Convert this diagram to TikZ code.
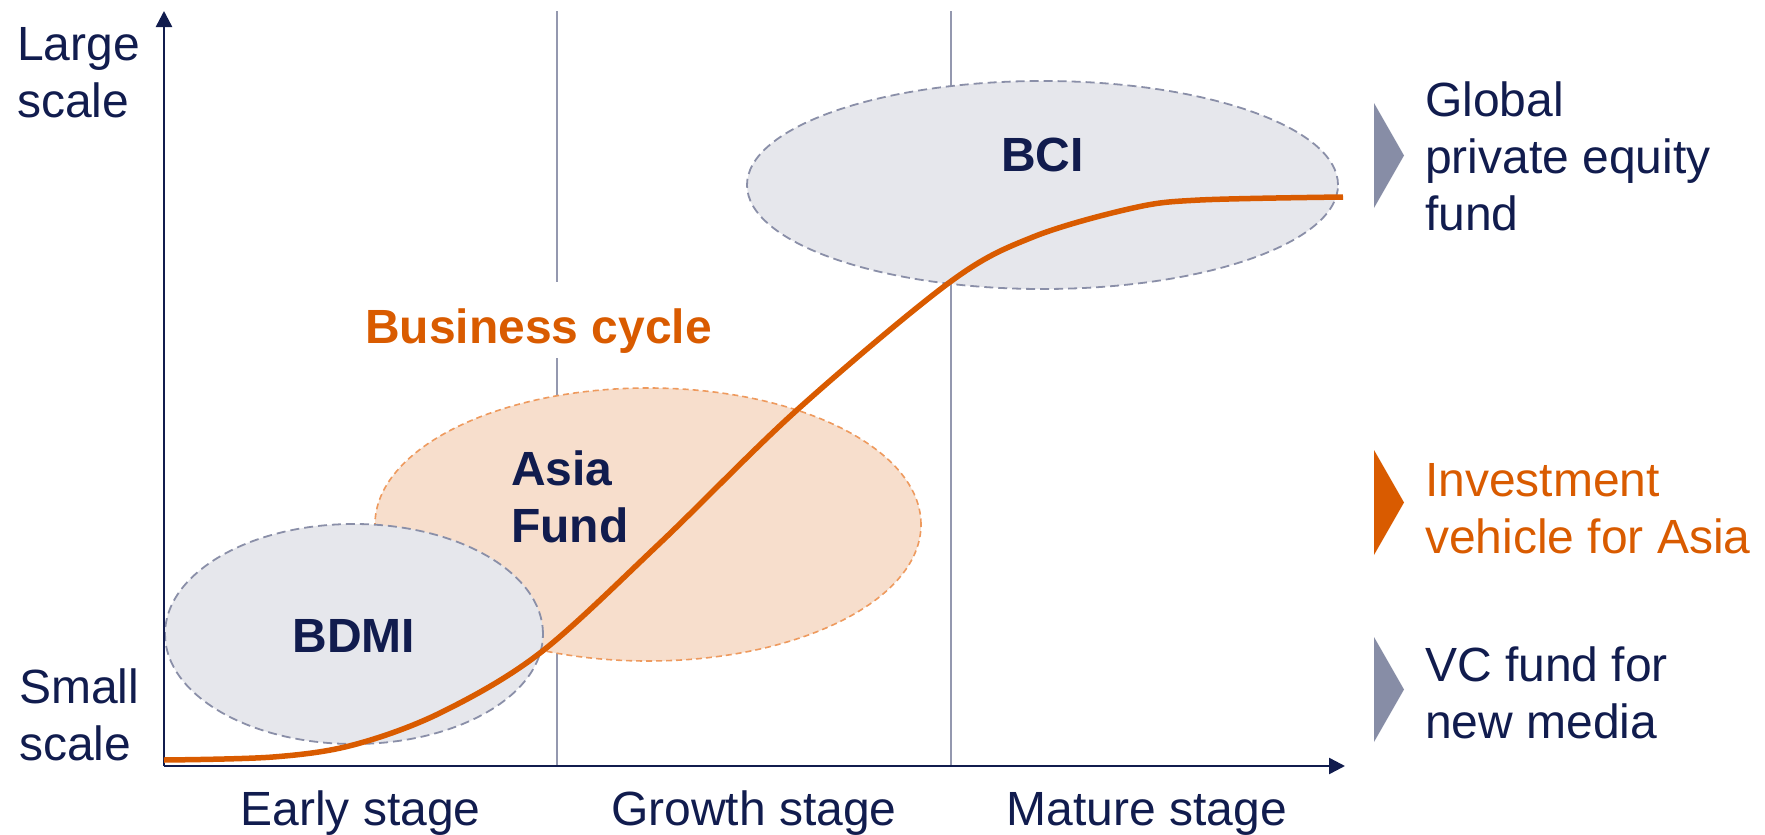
\documentclass[tikz,border=0pt]{standalone}
\usepackage{fontspec}
\setmainfont{Liberation Sans}
\usetikzlibrary{arrows.meta}
\definecolor{navy}{HTML}{111C4E}
\definecolor{accent}{HTML}{D95B00}
\definecolor{grayfill}{HTML}{E6E7EC}
\definecolor{grayline}{HTML}{8A8FA8}
\definecolor{asiafill}{HTML}{F7DECC}
\definecolor{asialine}{HTML}{EE9A5E}
\definecolor{trigray}{HTML}{878DA6}
\definecolor{sepline}{HTML}{9498AF}
\begin{document}
\begin{tikzpicture}[x=1pt,y=-1pt,
  lbl/.style={font=\fontsize{48}{57}\selectfont, text=navy, inner sep=0pt, align=left},
  blbl/.style={font=\fontsize{48}{57}\selectfont\bfseries, text=navy, inner sep=0pt, align=left},
  sepstyle/.style={draw=sepline, line width=1.8pt},
  grayell/.style={fill=grayfill, draw=grayline, line width=1.8pt, dash pattern=on 9pt off 5pt},
  asiaell/.style={fill=asiafill, draw=asialine, line width=1.6pt, dash pattern=on 6pt off 4pt},
  axisstyle/.style={draw=navy, line width=2.5pt, -{Triangle[length=16pt,width=16pt]}},
  curvestyle/.style={draw=accent, line width=5.5pt},
  marker/.style={fill=trigray}]
\useasboundingbox (0,0) rectangle (1765,835);

% separators
\coordinate (s1t) at (557,11);
\coordinate (s1a) at (557,282);
\coordinate (s1b) at (557,358);
\coordinate (s1e) at (557,766);
\coordinate (s2t) at (951,11);
\coordinate (s2e) at (951,766);
\draw[sepstyle] (s1t) -- (s1a);
\draw[sepstyle] (s1b) -- (s1e);
\draw[sepstyle] (s2t) -- (s2e);

% ellipses
\path[asiaell] (648,524.5) ellipse [x radius=273pt, y radius=136.5pt];
\path[grayell] (354,634) ellipse [x radius=189pt, y radius=110pt];
\path[grayell] (1042.5,185) ellipse [x radius=295.5pt, y radius=104pt];

% axes
\coordinate (O) at (164,766);
\coordinate (ytip) at (164,11);
\coordinate (xtip) at (1345,766);
\draw[axisstyle] (O) -- (ytip);
\draw[axisstyle] (O) -- (xtip);

% business cycle curve
\draw[curvestyle] plot[smooth, tension=0.55] coordinates {
  (164,760) (273,757) (353,745) (440,713) (540,653) (660,543)
  (797,410) (950,282) (1033,237) (1133,208) (1200,200) (1343,197)};

% labels
\node[blbl, text=accent, anchor=base] (bc) at (538.5,343) {Business cycle};
\node[blbl, anchor=base] (bdmi) at (354,652) {BDMI};
\node[blbl, anchor=base west] (asia) at (511,542) {Asia\\Fund};
\node[blbl, anchor=base] (bci) at (1042.5,171) {BCI};

\node[lbl, anchor=base west] (large) at (17,117) {Large\\scale};
\node[lbl, anchor=base west] (small) at (19,760) {Small\\scale};

\node[lbl, anchor=base] (early) at (360.5,825) {Early stage};
\node[lbl, anchor=base] (growth) at (754,825) {Growth stage};
\node[lbl, anchor=base] (mature) at (1147,825) {Mature stage};

% right-hand legend
\fill[marker] (1374,103) -- (1404,155.5) -- (1374,208) -- cycle;
\fill[accent] (1374,450) -- (1404,502.5) -- (1374,555) -- cycle;
\fill[marker] (1374,637) -- (1404,689.5) -- (1374,742) -- cycle;
\node[lbl, anchor=base west] (pe) at (1425,230) {Global\\private equity\\fund};
\node[lbl, text=accent, anchor=base west] (iv) at (1425,553) {Investment\\vehicle for Asia};
\node[lbl, anchor=base west] (vc) at (1425,738) {VC fund for\\new media};
\end{tikzpicture}
\end{document}
